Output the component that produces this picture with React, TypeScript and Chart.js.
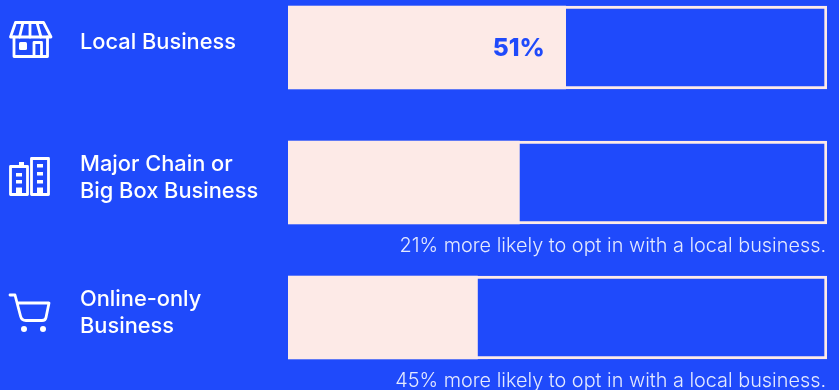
import React, { useEffect, useRef } from "react";
import { Chart, registerables } from "chart.js";

Chart.register(...registerables);

const BLUE = "#1f4afb";
const PINK = "#fdeae7";

const categories: string[][] = [
  ["Local Business"],
  ["Major Chain or", "Big Box Business"],
  ["Online-only", "Business"],
];
const optInShare = [51, 42.5, 34.8];
const trackExtent = [99, 99, 99];
const valueLabels = ["51%", "", ""];
const comparisonNotes = [
  "",
  "21% more likely to opt in with a local business.",
  "45% more likely to opt in with a local business.",
];

type Ctx = CanvasRenderingContext2D;

function line(ctx: Ctx, pts: number[][], close = false) {
  ctx.beginPath();
  pts.forEach(([x, y], i) => (i ? ctx.lineTo(x, y) : ctx.moveTo(x, y)));
  if (close) ctx.closePath();
  ctx.stroke();
}

// Icons are drawn around the vertical centre of their row.
function drawShop(ctx: Ctx) {
  line(ctx, [[15.5, -25], [43.5, -25], [51, -10.5], [10.5, -10.5]], true);
  line(ctx, [[23, -25], [19.5, -10.5]]);
  line(ctx, [[30, -25], [30, -10.5]]);
  line(ctx, [[37, -25], [41, -10.5]]);
  line(ctx, [[14, -10.5], [14, 9], [47.5, 9], [47.5, -10.5]]);
  line(ctx, [[34, 9], [34, -5], [41.5, -5], [41.5, 9]]);
  ctx.beginPath();
  ctx.roundRect(19, -5.5, 8, 8, 1.5);
  ctx.fill();
}

function drawTowers(ctx: Ctx) {
  line(ctx, [[10.5, -16], [27.5, -16], [27.5, 12], [10.5, 12]], true);
  line(ctx, [[31.5, -24], [48.5, -24], [48.5, 12], [31.5, 12]], true);
  ctx.fillRect(19, -20.5, 5, 4);
  const rects = [
    [16, -9.5, 6, 3.5],
    [16, -2.5, 6, 3.5],
    [16, 5, 6, 7],
    [37, -18.5, 6, 3.5],
    [37, -10.5, 6, 3.5],
    [37, -2.5, 6, 3.5],
    [37, 5, 6, 7],
  ];
  rects.forEach(([x, y, w, h]) => ctx.fillRect(x, y, w, h));
}

function drawCart(ctx: Ctx) {
  ctx.beginPath();
  ctx.moveTo(10, -22.5);
  ctx.lineTo(15, -22.5);
  ctx.lineTo(20.5, -1.5);
  ctx.quadraticCurveTo(21.5, 3, 26, 3);
  ctx.lineTo(42, 3);
  ctx.quadraticCurveTo(45.5, 3, 46, 0);
  ctx.lineTo(49, -14.5);
  ctx.lineTo(17.5, -14.5);
  ctx.stroke();
  [24, 43].forEach((x) => {
    ctx.beginPath();
    ctx.arc(x, 11.5, 3, 0, Math.PI * 2);
    ctx.fill();
  });
}

const icons = [drawShop, drawTowers, drawCart];

const rowDecorations = {
  id: "rowDecorations",
  afterDatasetsDraw(chart: Chart) {
    const { ctx } = chart;
    const x = chart.scales.x;
    const y = chart.scales.y;
    ctx.save();
    categories.forEach((_, i) => {
      const centre = y.getPixelForValue(i);

      ctx.save();
      ctx.translate(0, centre);
      ctx.strokeStyle = "#ffffff";
      ctx.fillStyle = "#ffffff";
      ctx.lineWidth = 2.8;
      ctx.lineJoin = "round";
      ctx.lineCap = "round";
      icons[i](ctx);
      ctx.restore();

      if (valueLabels[i]) {
        ctx.fillStyle = BLUE;
        ctx.font = "800 24.5px Inter";
        ctx.textAlign = "right";
        ctx.textBaseline = "middle";
        ctx.fillText(valueLabels[i], x.getPixelForValue(optInShare[i]) - 21, centre + 1.5);
      }
      if (comparisonNotes[i]) {
        ctx.fillStyle = "rgba(255,255,255,0.88)";
        ctx.font = "300 19.85px Inter";
        ctx.textAlign = "right";
        ctx.textBaseline = "middle";
        ctx.fillText(comparisonNotes[i], x.getPixelForValue(trackExtent[i]) - 1, centre + 64);
      }
    });
    ctx.restore();
  },
};

export default function App() {
  const ref = useRef<HTMLCanvasElement>(null);

  useEffect(() => {
    document.body.style.margin = "0";
    document.body.style.background = BLUE;
    const chart = new Chart(ref.current!, {
      type: "bar",
      data: {
        datasets: [
          {
            label: "Opt-in share",
            data: optInShare.map((v, i) => ({ x: v, y: i })),
            backgroundColor: PINK,
            borderWidth: 0,
            grouped: false,
            barThickness: 83,
            order: 0,
          },
          {
            label: "Scale",
            data: trackExtent.map((v, i) => ({ x: v, y: i })),
            backgroundColor: BLUE,
            borderColor: PINK,
            borderWidth: 3,
            borderSkipped: false,
            grouped: false,
            barThickness: 83,
            order: 1,
          },
        ],
      } as any,
      options: {
        indexAxis: "y",
        animation: false,
        responsive: false,
        layout: { padding: { left: 80, right: 12, top: 0, bottom: 0 } },
        plugins: { legend: { display: false }, tooltip: { enabled: false } },
        scales: {
          x: { display: false, min: 0, max: 99 },
          y: {
            type: "linear",
            display: false,
            offset: false,
            reverse: true,
            min: -0.352,
            max: 2.537,
          },
          // Row names sit slightly above the centre of their bars.
          rowNames: {
            type: "linear",
            axis: "y",
            position: "left",
            offset: false,
            reverse: true,
            min: -0.315,
            max: 2.574,
            grid: { display: false },
            border: { display: false },
            afterBuildTicks: (scale: any) => {
              scale.ticks = categories.map((_, i) => ({ value: i }));
            },
            afterFit: (scale: any) => {
              scale.width = 208;
              scale.paddingTop = 0;
              scale.paddingBottom = 0;
            },
            ticks: {
              autoSkip: false,
              crossAlign: "far",
              color: "#ffffff",
              font: { family: "Inter", size: 21.8, weight: "500", lineHeight: 1.24 },
              callback: (v: any) => categories[Number(v)] ?? "",
            },
          },
        },
      } as any,
      plugins: [rowDecorations],
    });
    return () => chart.destroy();
  }, []);

  return (
    <div style={{ position: "absolute", left: 0, top: 0, width: 839, height: 390, background: BLUE, overflow: "hidden" }}>
      <canvas ref={ref} width={839} height={390} style={{ display: "block" }} />
    </div>
  );
}
